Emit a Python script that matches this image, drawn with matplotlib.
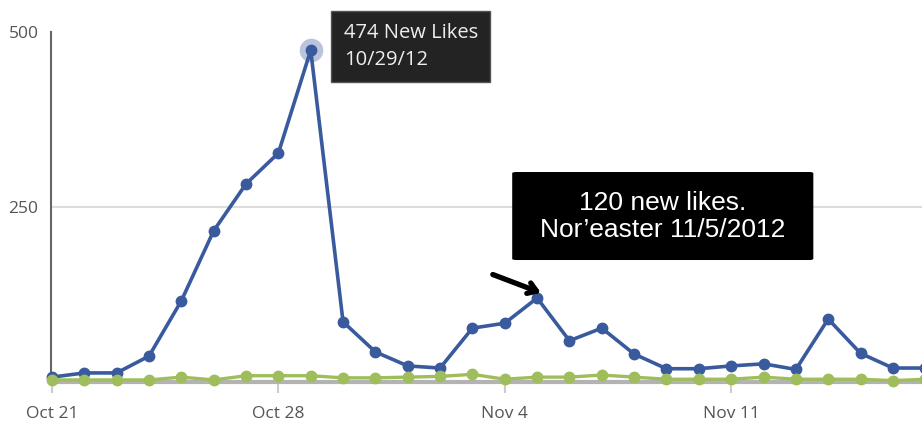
import numpy as np
import matplotlib.pyplot as plt
from matplotlib.patches import FancyBboxPatch

# ─── DATA ───────────────────────────────────────────────────────────────────
blue_likes = [7, 13, 13, 37, 116, 216, 283, 327, 474, 86, 43, 23, 20, 77,
              84, 120, 59, 77, 40, 19, 19, 23, 26, 18, 90, 41, 20, 20]
green_likes = [3, 3, 3, 3, 7, 3, 9, 9, 9, 6, 6, 7, 8, 11,
               4, 7, 7, 10, 7, 4, 4, 4, 7, 4, 4, 4, 2, 4]
tick_pos = [0, 7, 14, 21]
tick_labels = ["Oct 21", "Oct 28", "Nov 4", "Nov 11"]
y_ticks = [250, 500]

peak_idx = 8
storm_idx = 15

BLUE = "#3a5a9e"
GREEN = "#9fbe5b"
LABEL = "#555555"

x = np.arange(len(blue_likes))

# ─── PLOT ───────────────────────────────────────────────────────────────────
fig = plt.figure(figsize=(9.22, 4.24), dpi=100)
ax = fig.add_axes([0.0553, 0.099, 0.9447, 0.8255])

ax.axhline(250, color="#dddddd", lw=1.5, zorder=0)

ax.plot(x, blue_likes, color=BLUE, lw=2.6, marker="o", ms=7.5,
        clip_on=False, zorder=3)
ax.plot(x, green_likes, color=GREEN, lw=2.4, marker="o", ms=7.5,
        clip_on=False, zorder=4)

# highlighted peak
ax.plot(x[peak_idx], blue_likes[peak_idx], "o", ms=17, color=BLUE,
        alpha=0.35, mec="none", zorder=2, clip_on=False)

ax.set_xlim(-0.03, 26.9)
ax.set_ylim(0, 500)

ax.set_xticks(tick_pos)
ax.set_xticklabels(tick_labels)
ax.set_yticks(y_ticks)
ax.set_yticklabels([str(v) for v in y_ticks])

for lbl in ax.get_xticklabels() + ax.get_yticklabels():
    lbl.set_fontfamily("Open Sans")
    lbl.set_fontsize(12.5)
    lbl.set_color(LABEL)

ax.tick_params(axis="y", length=0, pad=9)
ax.tick_params(axis="x", length=8, width=1.5, color="#cccccc", pad=9)

for s in ["top", "right"]:
    ax.spines[s].set_visible(False)
ax.spines["left"].set_color("#666666")
ax.spines["left"].set_linewidth(1.5)
ax.spines["bottom"].set_color("#b3b3b3")
ax.spines["bottom"].set_linewidth(3)

# tooltip at peak
ax.annotate(f"{blue_likes[peak_idx]} New Likes\n10/29/12",
            xy=(x[peak_idx], blue_likes[peak_idx]), xytext=(33, 27),
            textcoords="offset pixels", ha="left", va="top",
            fontsize=14.5, family="Open Sans", color="#eeeeee",
            linespacing=1.45, annotation_clip=False, zorder=6,
            bbox=dict(boxstyle="square,pad=0.62", fc="#232323", ec="#555555", lw=1))

# storm callout: black box with centred white text
box = FancyBboxPatch((14.23, 174.3), 9.31, 125.7,
                     boxstyle="round,pad=0,rounding_size=0.12",
                     fc="black", ec="none", zorder=6, mutation_aspect=14)
ax.add_patch(box)
ax.text(18.88, 237, f"{blue_likes[storm_idx]} new likes.\nNor\u2019easter 11/5/2012",
        ha="center", va="center", fontsize=19, family="Liberation Sans",
        color="white", linespacing=1.15, zorder=7)

ax.annotate("", xy=(x[storm_idx] + 0.2, blue_likes[storm_idx] + 6),
            xytext=(13.55, 155),
            arrowprops=dict(arrowstyle="->,head_length=0.6,head_width=0.4",
                            lw=3.8, color="black"), zorder=7)

plt.savefig("out.png", dpi=100)
